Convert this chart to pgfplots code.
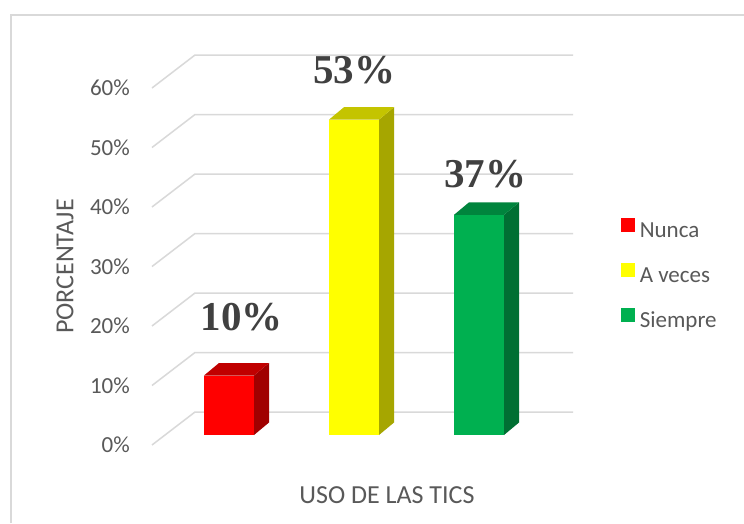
\documentclass[border=0pt]{standalone}
\usepackage{fontspec}
\setmainfont{Carlito}
\newfontfamily\timesfont{Liberation Serif}
\usepackage{pgfplots}
\pgfplotsset{compat=1.18}
\definecolor{gridc}{HTML}{D9D9D9}
\definecolor{txt}{HTML}{595959}
\definecolor{lbl}{HTML}{404040}
\definecolor{redF}{HTML}{FF0000}
\definecolor{redT}{HTML}{C00000}
\definecolor{redS}{HTML}{A00000}
\definecolor{yelF}{HTML}{FFFF00}
\definecolor{yelT}{HTML}{C4C400}
\definecolor{yelS}{HTML}{A6A600}
\definecolor{grnF}{HTML}{00B050}
\definecolor{grnT}{HTML}{00843D}
\definecolor{grnS}{HTML}{006F33}
\pgfplotsset{sq legend/.style={legend image code/.code={\fill[##1] (0pt,0.5pt) rectangle (13.5pt,14pt);}}}
\begin{document}
\begin{tikzpicture}
\useasboundingbox (0,0) rectangle (744pt,523pt);
\fill[white] (0,0) rectangle (744pt,523pt);
\draw[gridc, line width=1.5pt] (10.75pt,0pt) -- (10.75pt,508pt) -- (744pt,508pt);
\begin{axis}[
  at={(134pt,88pt)}, anchor=south west,
  scale only axis, width=440pt, height=357pt,
  xmin=0.24, xmax=3.76, ymin=0, ymax=60,
  clip=false,
  axis line style={draw=none},
  major tick length=0pt,
  xtick=\empty,
  ytick={0,10,20,30,40,50,60},
  yticklabels={0\%,10\%,20\%,30\%,40\%,50\%,60\%},
  yticklabel style={font=\fontsize{23}{23}\selectfont, text=txt, anchor=east, inner sep=0pt, xshift=-4pt, yshift=-10pt},
  xlabel={USO DE LAS TICS},
  ylabel={PORCENTAJE},
  xlabel style={at={(axis description cs:0.575,-0.168)}, anchor=center, font=\fontsize{26}{26}\selectfont, text=txt},
  ylabel style={at={(axis description cs:-0.157,0.472)}, anchor=center, font=\fontsize{26}{26}\selectfont, text=txt},
  legend style={draw=none, fill=none, at={(axis description cs:1.107,0.448)}, anchor=west,
    font=\fontsize{23}{23}\selectfont, text=txt, inner sep=0pt, row sep=21.5pt,
    nodes={inner sep=0pt, text height=15pt, text depth=4pt},
    /tikz/every odd column/.append style={column sep=5pt}},
  legend cell align=left,
]
\addplot[forget plot, gridc, line width=1.5pt] coordinates {(0.384,-1.68) (0.728,3.866) (3.752,3.866)};
\addplot[forget plot, gridc, line width=1.5pt] coordinates {(0.384,8.32) (0.728,13.866) (3.752,13.866)};
\addplot[forget plot, gridc, line width=1.5pt] coordinates {(0.384,18.32) (0.728,23.866) (3.752,23.866)};
\addplot[forget plot, gridc, line width=1.5pt] coordinates {(0.384,28.32) (0.728,33.866) (3.752,33.866)};
\addplot[forget plot, gridc, line width=1.5pt] coordinates {(0.384,38.32) (0.728,43.866) (3.752,43.866)};
\addplot[forget plot, gridc, line width=1.5pt] coordinates {(0.384,48.32) (0.728,53.866) (3.752,53.866)};
\addplot[forget plot, gridc, line width=1.5pt] coordinates {(0.384,58.32) (0.728,63.866) (3.752,63.866)};
% Nunca
\addplot[forget plot, fill=redS, draw=none] coordinates {(1.2,0) (1.32,2.1) (1.32,12.1) (1.2,10)};
\addplot[forget plot, fill=redT, draw=none] coordinates {(0.8,10) (1.2,10) (1.32,12.1) (0.92,12.1)};
\addplot[ybar, bar width=50pt, bar shift=0pt, fill=redF, draw=none, sq legend] coordinates {(1,10)};
\addlegendentry{Nunca}
% A veces
\addplot[forget plot, fill=yelS, draw=none] coordinates {(2.2,0) (2.32,2.1) (2.32,55.1) (2.2,53)};
\addplot[forget plot, fill=yelT, draw=none] coordinates {(1.8,53) (2.2,53) (2.32,55.1) (1.92,55.1)};
\addplot[ybar, bar width=50pt, bar shift=0pt, fill=yelF, draw=none, sq legend] coordinates {(2,53)};
\addlegendentry{A veces}
% Siempre
\addplot[forget plot, fill=grnS, draw=none] coordinates {(3.2,0) (3.32,2.1) (3.32,39.1) (3.2,37)};
\addplot[forget plot, fill=grnT, draw=none] coordinates {(2.8,37) (3.2,37) (3.32,39.1) (2.92,39.1)};
\addplot[ybar, bar width=50pt, bar shift=0pt, fill=grnF, draw=none, sq legend] coordinates {(3,37)};
\addlegendentry{Siempre}
\node[font=\timesfont\bfseries\fontsize{41}{41}\selectfont, text=lbl] at (axis cs:1.10,19.75) {10\%};
\node[font=\timesfont\bfseries\fontsize{41}{41}\selectfont, text=lbl] at (axis cs:2.00,61.4) {53\%};
\node[font=\timesfont\bfseries\fontsize{41}{41}\selectfont, text=lbl] at (axis cs:3.05,43.9) {37\%};
\end{axis}
\end{tikzpicture}
\end{document}
